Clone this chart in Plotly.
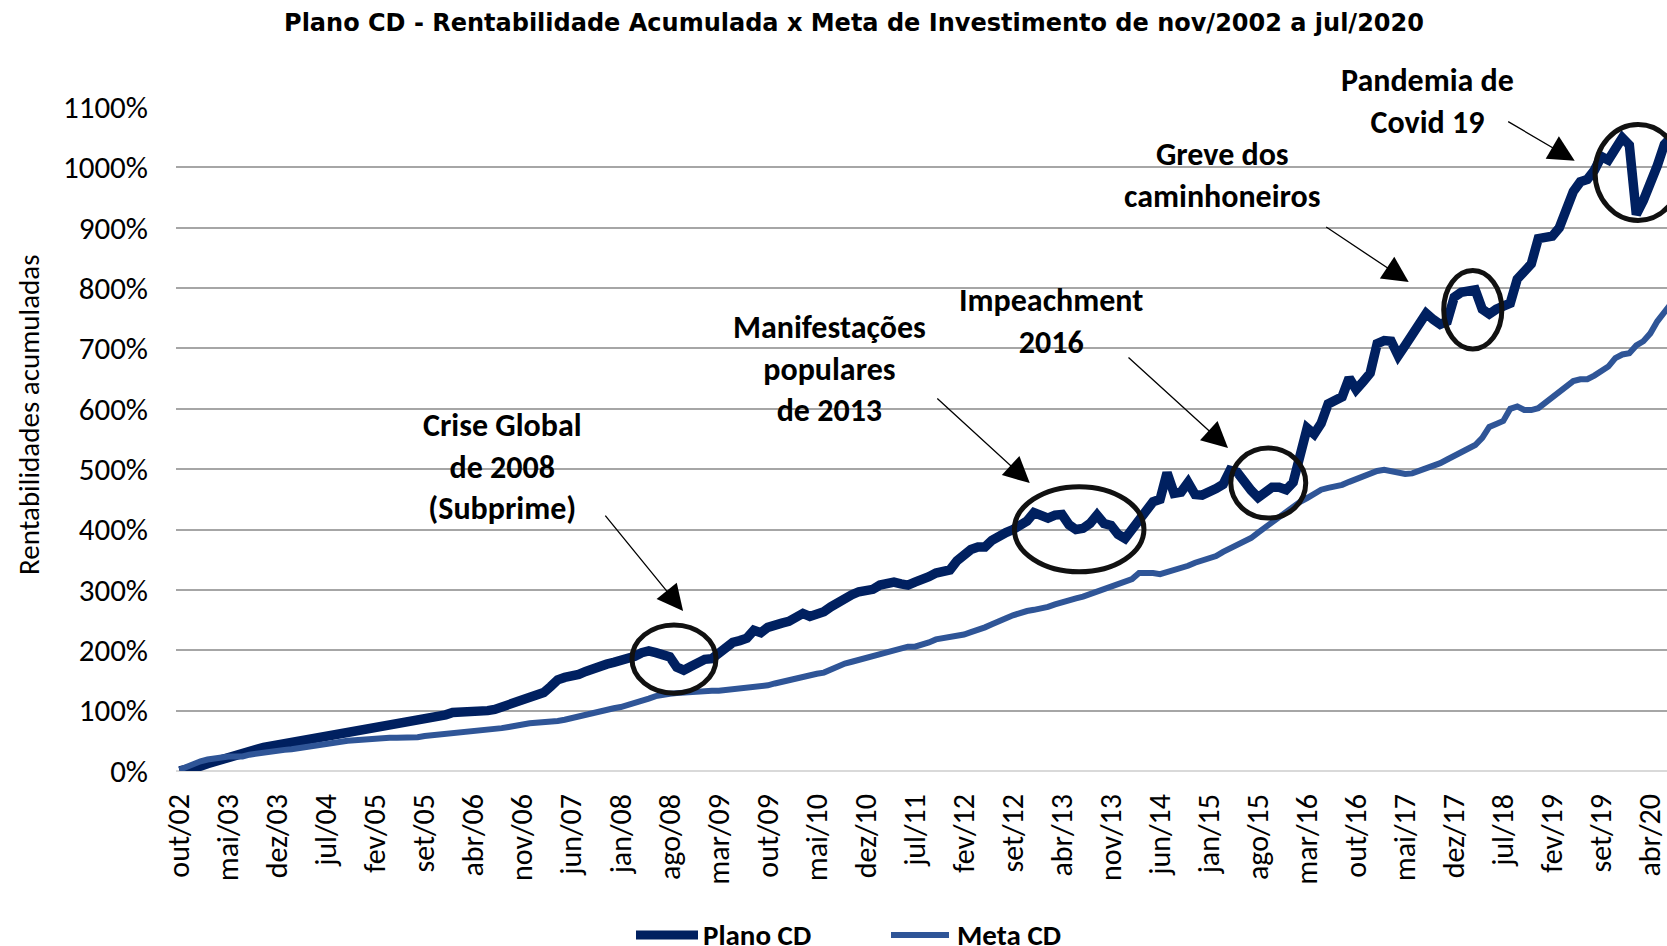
import plotly.graph_objects as go

# ---------------- DATA ----------------
MESES = ['jan', 'fev', 'mar', 'abr', 'mai', 'jun', 'jul', 'ago', 'set', 'out', 'nov', 'dez']
categorias = []
_m, _a = 9, 2002
for _ in range(214):
    categorias.append(f"{MESES[_m]}/{_a % 100:02d}")
    _m += 1
    if _m == 12:
        _m, _a = 0, _a + 1

plano_cd = [
    0, 2, 4, 8, 12, 16, 20, 24, 27, 30,
    33, 36, 39, 41, 43, 45, 47, 49, 51, 53,
    55, 57, 58, 60, 62, 64, 66, 68, 70, 72,
    74, 76, 78, 80, 82, 84, 86, 88, 93, 97,
    97, 97, 97, 98, 100, 102, 106, 111, 116, 122,
    126, 127, 130, 140, 151, 155, 157, 160, 165, 170,
    174, 177, 180, 182, 186, 190, 196, 199, 196, 193,
    189, 172, 167, 173, 180, 185, 186, 195, 208, 213,
    216, 220, 233, 229, 238, 243, 245, 248, 255, 261,
    256, 259, 264, 272, 280, 286, 292, 297, 299, 301,
    308, 312, 313, 310, 308, 313, 316, 322, 328, 331,
    333, 348, 358, 367, 371, 371, 382, 390, 395, 400,
    406, 414, 428, 425, 419, 424, 425, 408, 400, 402,
    410, 424, 410, 407, 392, 385, 399, 415, 430, 446,
    450, 494, 460, 462, 478, 458, 457, 461, 468, 475,
    498, 495, 478, 465, 453, 462, 470, 470, 466, 478,
    518, 568, 558, 576, 608, 616, 620, 651, 632, 645,
    659, 708, 713, 712, 688, 705, 722, 740, 758, 748,
    740, 745, 785, 793, 795, 797, 765, 757, 765, 772,
    775, 815, 830, 840, 882, 885, 886, 900, 930, 960,
    976, 980, 995, 1018, 1012, 1030, 1049, 1037, 922, 945,
    970, 1003, 1038, 1050,
]

meta_cd = [
    2, 7, 12, 16, 19, 21, 23, 24, 24, 24,
    27, 29, 30, 31, 33, 35, 36, 38, 40, 42,
    44, 46, 48, 49, 50, 51, 52, 54, 55, 55,
    55, 55, 55, 55, 56, 58, 59, 60, 61, 62,
    63, 64, 65, 67, 69, 70, 71, 73, 74, 77,
    79, 80, 80, 80, 83, 85, 88, 91, 93, 96,
    98, 101, 104, 106, 109, 112, 116, 120, 124, 127,
    128, 129, 130, 132, 133, 133, 133, 133, 134, 136,
    137, 137, 138, 140, 142, 145, 148, 150, 153, 155,
    158, 161, 163, 168, 174, 178, 181, 184, 186, 190,
    193, 197, 200, 203, 206, 206, 209, 213, 218, 220,
    221, 222, 226, 230, 233, 238, 243, 247, 253, 258,
    262, 265, 267, 269, 272, 276, 280, 283, 286, 289,
    293, 297, 301, 305, 309, 312, 318, 328, 329, 328,
    326, 329, 332, 336, 340, 345, 348, 351, 356, 363,
    369, 374, 380, 386, 395, 404, 412, 420, 430, 440,
    446, 452, 458, 466, 469, 471, 474, 479, 484, 489,
    493, 497, 499, 497, 494, 492, 493, 497, 501, 505,
    510, 516, 522, 528, 534, 540, 552, 570, 575, 580,
    600, 604, 598, 598, 601, 610, 620, 628, 637, 646,
    649, 649, 655, 662, 670, 684, 690, 692, 705, 712,
    725, 745, 762, 775,
]

rotulos_x = categorias[::7]
valores_y = list(range(0, 1101, 100))
rotulos_y = [f"{v}%" for v in valores_y]

# eventos: texto, centro do texto [px], ponta da seta [índice mês, %], cauda [px], elipse [x0, x1, y0, y1]
eventos = [
    ("Crise Global<br>de 2008<br>(Subprime)", (502, 467), (71.9, 265), (-79, -97), (64.6, 76.6, 129, 242)),
    ("Manifestações<br>populares<br>de 2013", (829, 369), (121.4, 477), (-94, -86), (119.2, 137.7, 330, 471)),
    ("Impeachment<br>2016", (1051, 321), (149.7, 535), (-101, -92), (150.1, 160.8, 419, 535)),
    ("Greve dos<br>caminhoneiros", (1222, 175), (175.5, 810), (-84, -56), (180.5, 188.8, 699, 829)),
    ("Pandemia de<br>Covid 19", (1427, 102), (199.2, 1011), (-68, -40), (202.1, 214.4, 912, 1071)),
]

COR_PLANO = '#002060'
COR_META = '#2F5597'
FONTE = 'Carlito, Calibri, Lato, sans-serif'

# ---------------- FIGURE ----------------
W, H = 1667, 946
ML, MR, MT, MB = 176, 0, 107, 175
PW, PH = W - ML - MR, H - MT - MB


def paper_x(px):
    return (px - ML) / PW


def paper_y(py):
    return (H - MB - py) / PH


fig = go.Figure()
fig.add_trace(go.Scatter(x=categorias, y=plano_cd, mode='lines', name='Plano CD',
                         line=dict(color=COR_PLANO, width=9.5)))
fig.add_trace(go.Scatter(x=categorias, y=meta_cd, mode='lines', name='Meta CD',
                         line=dict(color=COR_META, width=6)))

shapes = []
annotations = []
for texto, (tx, ty), (ax_, ay_), (dx, dy), (x0, x1, y0, y1) in eventos:
    annotations.append(dict(x=paper_x(tx), y=paper_y(ty), xref='paper', yref='paper',
                            text=f"<b>{texto}</b>", showarrow=False,
                            font=dict(family=FONTE, size=32, color='black'), xanchor='center',
                            yanchor='middle', align='center'))
    annotations.append(dict(x=ax_, y=ay_, xref='x', yref='y', text='', showarrow=True,
                            ax=dx, ay=dy, arrowhead=2, arrowsize=4, arrowwidth=1.3,
                            arrowcolor='black', standoff=0))
    shapes.append(dict(type='circle', xref='x', yref='y', x0=x0, x1=x1, y0=y0, y1=y1,
                       line=dict(color='#111111', width=5), layer='above'))

# título do eixo y
annotations.append(dict(x=paper_x(29), y=paper_y(415), xref='paper', yref='paper',
                        text='Rentabilidades acumuladas', showarrow=False, textangle=-90,
                        xanchor='center', yanchor='middle',
                        font=dict(family=FONTE, size=29, color='black')))

# legenda manual
legenda = [("Plano CD", COR_PLANO, 9, 636, 698, 701), ("Meta CD", COR_META, 6, 891, 949, 955)]
for nome, cor, lw, l0, l1, tx in legenda:
    shapes.append(dict(type='line', xref='paper', yref='paper', x0=paper_x(l0), x1=paper_x(l1),
                       y0=paper_y(935), y1=paper_y(935), line=dict(color=cor, width=lw)))
    annotations.append(dict(x=paper_x(tx), y=paper_y(935), xref='paper', yref='paper',
                            text=f"<b>{nome}</b>", showarrow=False, xanchor='left', yanchor='middle',
                            font=dict(family=FONTE, size=29, color='black')))

fig.update_layout(
    width=W, height=H,
    margin=dict(l=ML, r=MR, t=MT, b=MB),
    paper_bgcolor='white', plot_bgcolor='white',
    showlegend=False,
    title=dict(text="<b>Plano CD - Rentabilidade Acumulada x Meta de Investimento de nov/2002 a jul/2020</b>",
               x=854 / W, xanchor='center', y=1 - 23 / H, yanchor='middle', xref='container', yref='container',
               font=dict(family='DejaVu Sans, sans-serif', size=24, color='black')),
    xaxis=dict(type='category', range=[-0.5, (W - 179.5) / 7.004], tickmode='array',
               tickvals=rotulos_x, ticktext=rotulos_x, tickangle=-90, ticks='',
               tickfont=dict(family=FONTE, size=30, color='black'),
               showgrid=False, showline=False, zeroline=False, ticklabelstandoff=16),
    yaxis=dict(range=[0, 1100], tickmode='array', tickvals=valores_y, ticktext=rotulos_y, ticks='',
               tickfont=dict(family=FONTE, size=31, color='black'),
               gridcolor='#A6A6A6', gridwidth=1.5, zeroline=True, zerolinecolor='#D9D9D9',
               zerolinewidth=2, showline=False, ticklabelstandoff=27),
    shapes=shapes,
    annotations=annotations,
)

fig.write_html("out.html", config={'displayModeBar': False},
               post_script="document.body.style.margin='0';document.body.style.overflow='hidden';")
